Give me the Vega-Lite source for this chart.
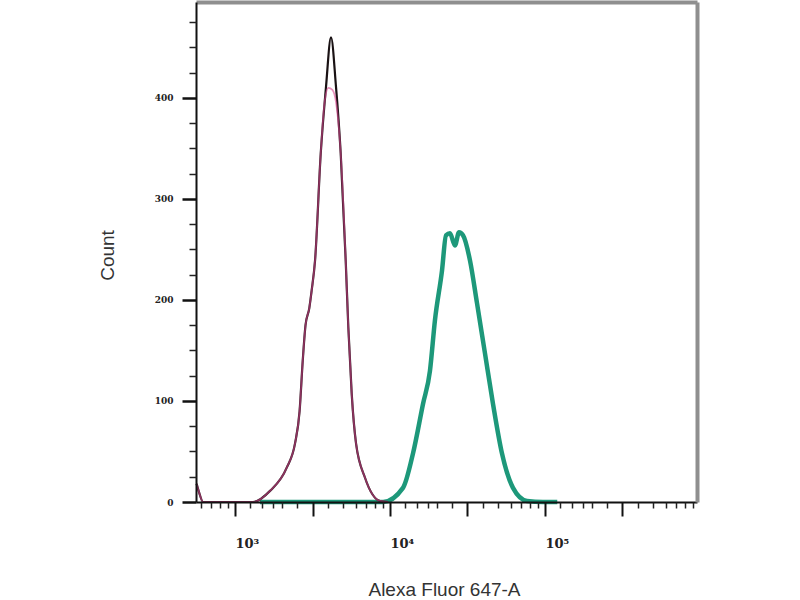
{
  "$schema": "https://vega.github.io/schema/vega-lite/v6.json",
  "width": 501,
  "height": 500,
  "autosize": "none",
  "padding": {"left": 196, "top": 2, "right": 103, "bottom": 98},
  "background": "white",
  "config": {"view": {"stroke": null}, "axis": {"grid": false}},
  "data": {"values": [
    {"s": "green", "v": 1449, "c": 0},
    {"s": "green", "v": 9016, "c": 0},
    {"s": "green", "v": 12130, "c": 14},
    {"s": "green", "v": 14070, "c": 48},
    {"s": "green", "v": 16330, "c": 97},
    {"s": "green", "v": 18110, "c": 130},
    {"s": "green", "v": 19500, "c": 180},
    {"s": "green", "v": 21650, "c": 229},
    {"s": "green", "v": 22980, "c": 264},
    {"s": "green", "v": 24380, "c": 266},
    {"s": "green", "v": 26250, "c": 254},
    {"s": "green", "v": 27870, "c": 267},
    {"s": "green", "v": 29580, "c": 264},
    {"s": "green", "v": 32830, "c": 239},
    {"s": "green", "v": 36410, "c": 197},
    {"s": "green", "v": 41020, "c": 147},
    {"s": "green", "v": 46220, "c": 97},
    {"s": "green", "v": 52810, "c": 48},
    {"s": "green", "v": 62180, "c": 14},
    {"s": "green", "v": 76560, "c": 1},
    {"s": "green", "v": 97070, "c": 0},
    {"s": "green", "v": 120000, "c": 0},
    {"s": "black", "v": 565, "c": 18},
    {"s": "black", "v": 585, "c": 10},
    {"s": "black", "v": 622, "c": 0},
    {"s": "black", "v": 1306, "c": 0},
    {"s": "black", "v": 1682, "c": 11},
    {"s": "black", "v": 2156, "c": 34},
    {"s": "black", "v": 2439, "c": 58},
    {"s": "black", "v": 2610, "c": 90},
    {"s": "black", "v": 2735, "c": 140},
    {"s": "black", "v": 2850, "c": 175},
    {"s": "black", "v": 3015, "c": 192},
    {"s": "black", "v": 3126, "c": 210},
    {"s": "black", "v": 3283, "c": 239},
    {"s": "black", "v": 3573, "c": 345},
    {"s": "black", "v": 3864, "c": 411},
    {"s": "black", "v": 4161, "c": 460},
    {"s": "black", "v": 4483, "c": 411},
    {"s": "black", "v": 4808, "c": 345},
    {"s": "black", "v": 5178, "c": 239},
    {"s": "black", "v": 5383, "c": 173},
    {"s": "black", "v": 5662, "c": 107},
    {"s": "black", "v": 6036, "c": 58},
    {"s": "black", "v": 6898, "c": 24},
    {"s": "black", "v": 8616, "c": 1},
    {"s": "black", "v": 9706, "c": 0},
    {"s": "pink", "v": 565, "c": 18},
    {"s": "pink", "v": 585, "c": 10},
    {"s": "pink", "v": 622, "c": 0},
    {"s": "pink", "v": 1306, "c": 0},
    {"s": "pink", "v": 1682, "c": 11},
    {"s": "pink", "v": 2156, "c": 34},
    {"s": "pink", "v": 2439, "c": 58},
    {"s": "pink", "v": 2610, "c": 90},
    {"s": "pink", "v": 2735, "c": 140},
    {"s": "pink", "v": 2850, "c": 175},
    {"s": "pink", "v": 3015, "c": 192},
    {"s": "pink", "v": 3126, "c": 210},
    {"s": "pink", "v": 3283, "c": 239},
    {"s": "pink", "v": 3573, "c": 345},
    {"s": "pink", "v": 3800, "c": 398},
    {"s": "pink", "v": 4000, "c": 410},
    {"s": "pink", "v": 4250, "c": 408},
    {"s": "pink", "v": 4483, "c": 396},
    {"s": "pink", "v": 4808, "c": 345},
    {"s": "pink", "v": 5178, "c": 239},
    {"s": "pink", "v": 5383, "c": 173},
    {"s": "pink", "v": 5662, "c": 107},
    {"s": "pink", "v": 6036, "c": 58},
    {"s": "pink", "v": 6898, "c": 24},
    {"s": "pink", "v": 8616, "c": 1},
    {"s": "pink", "v": 9706, "c": 0}
  ]},
  "layer": [
    {
      "transform": [{"filter": "datum.s == 'green'"}],
      "mark": {"type": "line", "color": "#1d987a", "strokeWidth": 4.5, "interpolate": "monotone"},
      "encoding": {
        "x": {"field": "v", "type": "quantitative",
          "scale": {"type": "log", "domain": [560, 957000], "nice": false},
          "axis": {"orient": "bottom", "values": [1000, 3162.28, 10000, 31622.8, 100000, 316228],
            "tickSize": 14, "tickWidth": 2, "tickColor": "#111", "domainColor": "#111", "domainWidth": 2,
            "labelExpr": "datum.value == 1000 ? '10\u00b3' : datum.value == 10000 ? '10\u2074' : datum.value == 100000 ? '10\u2075' : ''",
            "labelFont": "DejaVu Serif", "labelFontSize": 13, "labelFontWeight": "bold", "labelColor": "#222",
            "labelAlign": "left", "labelDx": 4, "labelBaseline": "alphabetic", "labelPadding": 31,
            "labelFlush": false, "labelOverlap": false, "labelBound": false,
            "title": "Alexa Fluor 647-A", "titleFont": "Liberation Sans", "titleFontSize": 19,
            "titleFontWeight": "normal", "titleColor": "#333", "titleX": 248, "titleY": 93,
            "titleAlign": "center", "titleBaseline": "alphabetic", "zindex": 1}},
        "y": {"field": "c", "type": "quantitative",
          "scale": {"domain": [0, 495], "nice": false, "zero": true},
          "axis": {"orient": "left", "values": [0, 100, 200, 300, 400],
            "tickSize": 14, "tickWidth": 2.5, "tickColor": "#111", "domainColor": "#111", "domainWidth": 2,
            "labelFont": "DejaVu Serif", "labelFontSize": 9, "labelFontWeight": "bold", "labelColor": "#222",
            "labelPadding": 9, "labelFlush": false,
            "title": "Count", "titleFont": "Liberation Sans", "titleFontSize": 19,
            "titleFontWeight": "normal", "titleColor": "#333", "titleAngle": 270,
            "titleX": -83, "titleY": 253, "titleAlign": "center", "titleBaseline": "alphabetic", "zindex": 1}}
      }
    },
    {
      "transform": [{"filter": "datum.s == 'black'"}],
      "mark": {"type": "line", "color": "#1a1214", "strokeWidth": 2.2, "interpolate": "monotone"},
      "encoding": {
        "x": {"field": "v", "type": "quantitative",
          "scale": {"type": "log", "domain": [560, 957000], "nice": false},
          "axis": {"orient": "bottom", "values": [600, 700, 800, 900, 1250, 1500, 1750, 2000, 2500, 4000, 5000, 6000, 7000, 8000, 9000, 12500, 15000, 17500, 20000, 25000, 40000, 50000, 60000, 70000, 80000, 90000, 125000, 150000, 175000, 200000, 250000, 400000, 500000, 600000, 700000, 800000, 900000],
            "tickSize": 6, "tickWidth": 1.5, "tickColor": "#222", "domain": false, "labels": false, "title": null, "zindex": 1}},
        "y": {"field": "c", "type": "quantitative",
          "scale": {"domain": [0, 495], "nice": false},
          "axis": {"orient": "left", "values": [25, 50, 75, 125, 150, 175, 225, 250, 275, 325, 350, 375, 425, 450, 475],
            "tickSize": 7, "tickWidth": 1.5, "tickColor": "#222", "domain": false, "labels": false, "title": null, "zindex": 1}}
      }
    },
    {
      "transform": [{"filter": "datum.s == 'pink'"}],
      "mark": {"type": "line", "color": "#d9488f", "strokeWidth": 1.8, "opacity": 0.6, "interpolate": "monotone"},
      "encoding": {
        "x": {"field": "v", "type": "quantitative",
          "scale": {"type": "log", "domain": [560, 957000], "nice": false},
          "axis": {"orient": "top", "ticks": false, "labels": false, "title": null, "domainColor": "#8f8f8f", "domainWidth": 4, "zindex": 1}},
        "y": {"field": "c", "type": "quantitative",
          "scale": {"domain": [0, 495], "nice": false},
          "axis": {"orient": "right", "ticks": false, "labels": false, "title": null, "domainColor": "#8f8f8f", "domainWidth": 4, "zindex": 1}}
      }
    }
  ],
  "resolve": {"axis": {"x": "independent", "y": "independent"}}
}
